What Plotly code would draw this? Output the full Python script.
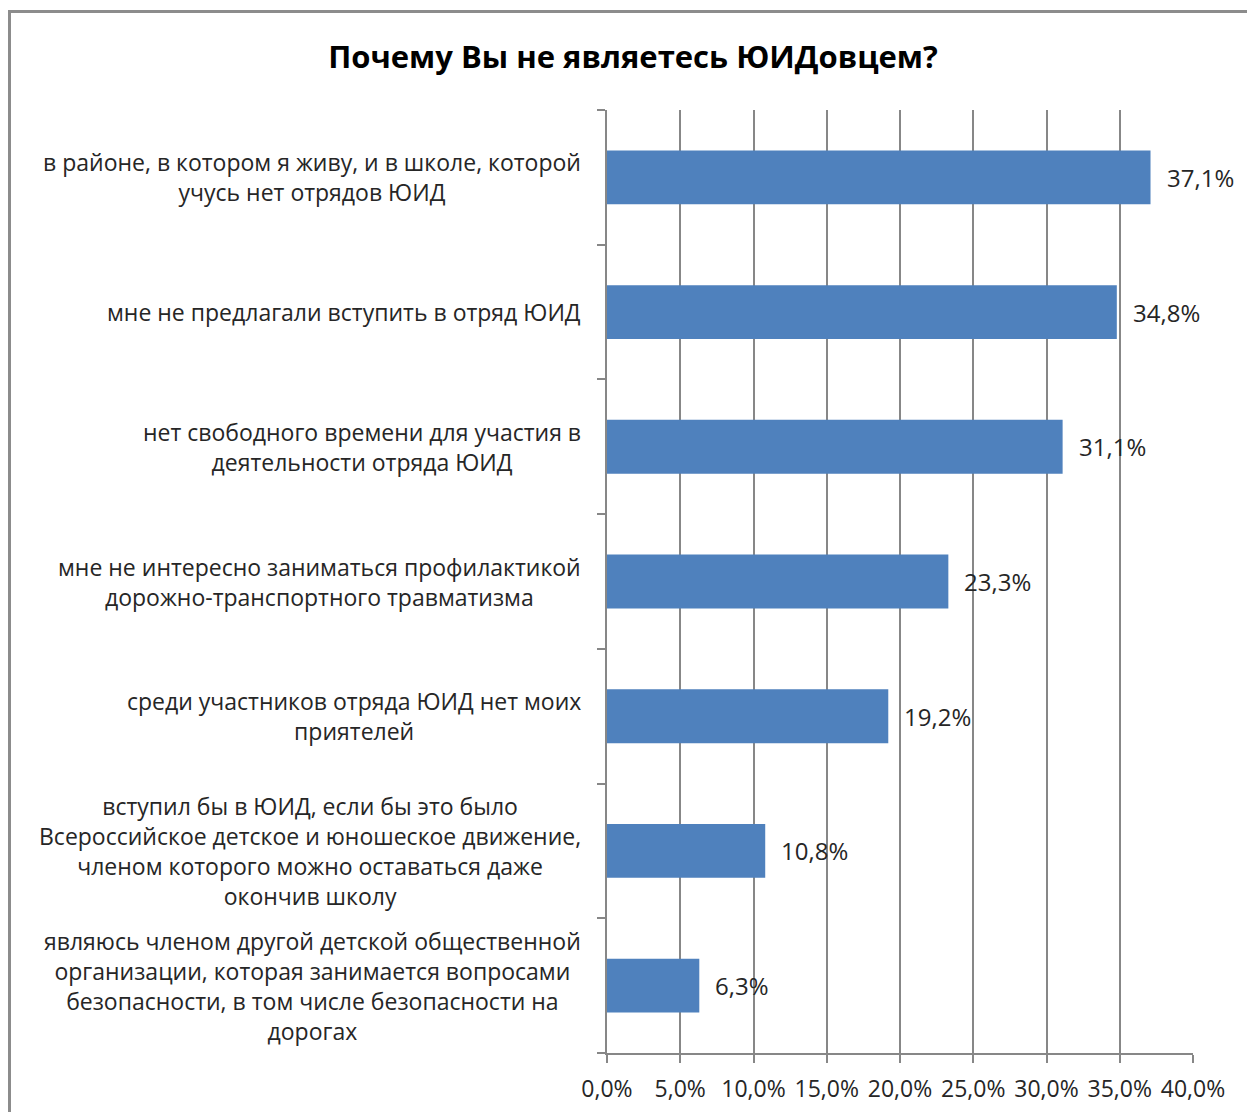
import plotly.graph_objects as go

categories = [
    "в районе, в котором я живу, и в школе, которой<br>учусь нет отрядов ЮИД",
    "мне не предлагали вступить в отряд ЮИД",
    "нет свободного времени для участия в<br>деятельности отряда ЮИД",
    "мне не интересно заниматься профилактикой<br>дорожно-транспортного травматизма",
    "среди участников отряда ЮИД нет моих<br>приятелей",
    "вступил бы в ЮИД, если бы это было<br>Всероссийское детское и юношеское движение,<br>членом которого можно оставаться даже<br>окончив школу",
    "являюсь членом другой детской общественной<br>организации, которая занимается вопросами<br>безопасности, в том числе безопасности на<br>дорогах",
]
values = [37.1, 34.8, 31.1, 23.3, 19.2, 10.8, 6.3]
value_labels = ["37,1%", "34,8%", "31,1%", "23,3%", "19,2%", "10,8%", "6,3%"]
x_ticks = [0, 5, 10, 15, 20, 25, 30, 35, 40]
x_tick_labels = ["0,0%", "5,0%", "10,0%", "15,0%", "20,0%", "25,0%", "30,0%", "35,0%", "40,0%"]
title = "Почему Вы не являетесь ЮИДовцем?"

FONT = "Open Sans"
GRID = "#878787"
TXT = "#262626"

# body margin is removed by post_script, so figure coords == page coords
W, H = 1247, 1112
L, T = 607, 110
R = W - 1193
B = H - 1053

fig = go.Figure(go.Bar(
    x=values, y=categories, orientation="h",
    marker=dict(color="#4F81BD", line=dict(width=0)),
    width=0.4, hoverinfo="skip",
))

annotations = []
for c, v, lab in zip(categories, values, value_labels):
    annotations.append(dict(
        x=v, y=c, xref="x", yref="y", text=lab, showarrow=False,
        xanchor="left", yanchor="middle", xshift=14,
        font=dict(family=FONT, size=24, color=TXT),
    ))
    annotations.append(dict(
        x=0, y=c, xref="paper", yref="y", text=c, showarrow=False,
        xanchor="right", yanchor="middle", xshift=-24, align="center",
        font=dict(family=FONT, size=23, color=TXT),
    ))

pw = W - L - R
ph = H - T - B
fig.add_shape(type="rect", xref="paper", yref="paper",
              x0=(9.5 - L) / pw, x1=(W + 20 - L) / pw,
              y0=-(B + 20) / ph, y1=(H - 11.5 - B) / ph,
              line=dict(color="#8C8C8C", width=3), fillcolor="rgba(0,0,0,0)", layer="below")

fig.update_layout(
    width=W, height=H,
    margin=dict(l=L, r=R, t=T, b=B),
    paper_bgcolor="white", plot_bgcolor="white",
    showlegend=False,
    bargap=0.6,
    title=dict(text="<b>" + title + "</b>", x=633 / W, xref="container", xanchor="center",
               y=1 - 57 / H, yanchor="middle",
               font=dict(family=FONT, size=31, color="black")),
    xaxis=dict(
        range=[0, 40], tickvals=x_ticks, ticktext=x_tick_labels,
        showgrid=True, gridcolor=GRID, gridwidth=2,
        showline=True, linecolor=GRID, linewidth=2,
        ticks="outside", ticklen=8, tickwidth=2, tickcolor=GRID,
        tickfont=dict(family=FONT, size=23, color=TXT),
        ticklabelstandoff=6, automargin=False,
        zeroline=False, fixedrange=True,
    ),
    yaxis=dict(
        categoryorder="array", categoryarray=categories[::-1],
        showticklabels=False, automargin=False,
        showline=True, linecolor=GRID, linewidth=2,
        ticks="outside", ticklen=8, tickwidth=2, tickcolor=GRID,
        tickson="boundaries", showgrid=False, zeroline=False, fixedrange=True,
    ),
    annotations=annotations,
)

fig.write_html(
    "out.html",
    config={"displayModeBar": False},
    post_script="document.body.style.margin='0px';document.body.style.overflow='hidden';",
)
